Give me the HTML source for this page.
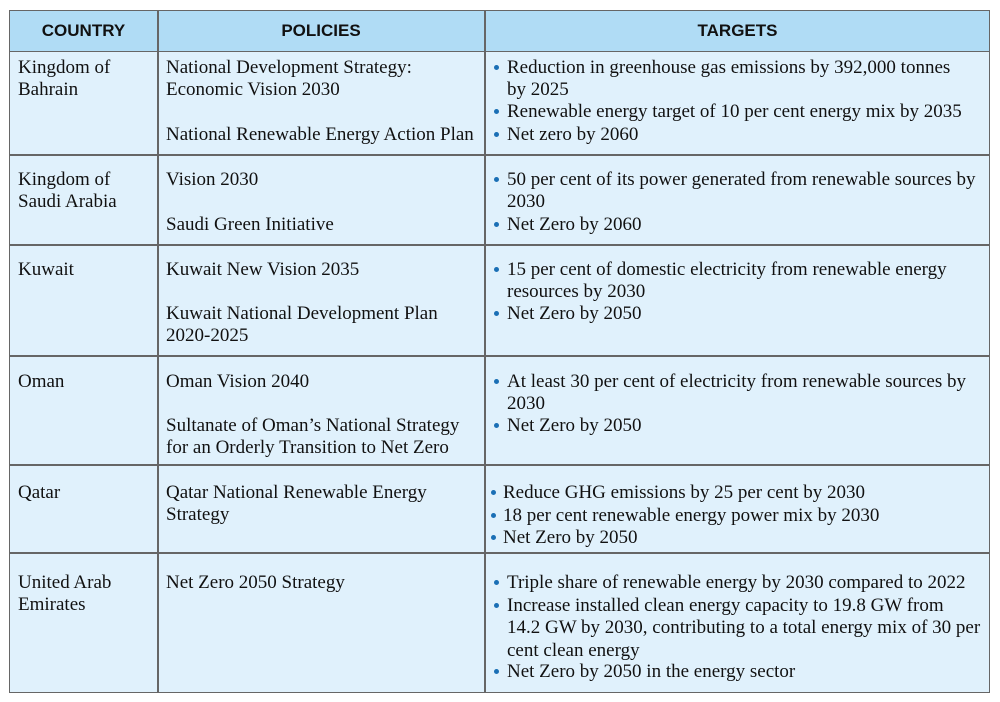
<!DOCTYPE html>
<html><head><meta charset="utf-8"><style>
body{margin:0;width:1000px;height:702px;background:#fff;position:relative;font-family:"Liberation Serif",serif;font-size:19px;color:#111;overflow:hidden}
.b{position:absolute;box-sizing:border-box}
.t{position:absolute;white-space:nowrap;line-height:22.3px;margin-top:2px}
.h{position:absolute;font-family:"Liberation Sans",sans-serif;font-weight:bold;font-size:17px;top:20px;text-align:center;line-height:22px}
.d{position:absolute;width:5px;height:5px;border-radius:50%;background:#1a6fb5;margin-top:1px}
</style></head><body>
<div class="b" style="left:9px;top:10px;width:981px;height:683px;background:#e0f1fc;border:1.5px solid #666"></div>
<div class="b" style="left:9px;top:10px;width:981px;height:42px;background:#b0dcf5;border:1.5px solid #666"></div>
<div class="b" style="left:157px;top:10px;width:1.5px;height:683px;background:#666"></div>
<div class="b" style="left:484px;top:10px;width:1.5px;height:683px;background:#666"></div>
<div class="b" style="left:9px;top:154px;width:981px;height:1.5px;background:#666"></div>
<div class="b" style="left:9px;top:244px;width:981px;height:1.5px;background:#666"></div>
<div class="b" style="left:9px;top:355px;width:981px;height:1.5px;background:#666"></div>
<div class="b" style="left:9px;top:464px;width:981px;height:1.5px;background:#666"></div>
<div class="b" style="left:9px;top:552px;width:981px;height:1.5px;background:#666"></div>
<div class="h" style="left:9px;width:149px">COUNTRY</div>
<div class="h" style="left:158px;width:326px">POLICIES</div>
<div class="h" style="left:485px;width:505px">TARGETS</div>

<div class="t" style="left:18px;top:55px">Kingdom of<br>Bahrain</div>
<div class="t" style="left:166px;top:55px">National Development Strategy:<br>Economic Vision 2030</div>
<div class="t" style="left:166px;top:122px">National Renewable Energy Action Plan</div>
<div class="d" style="left:494px;top:64px"></div><div class="t" style="left:507px;top:55px">Reduction in greenhouse gas emissions by 392,000 tonnes<br>by 2025</div>
<div class="d" style="left:494px;top:108px"></div><div class="t" style="left:507px;top:99px">Renewable energy target of 10 per cent energy mix by 2035</div>
<div class="d" style="left:494px;top:131px"></div><div class="t" style="left:507px;top:122px">Net zero by 2060</div>

<div class="t" style="left:18px;top:167px">Kingdom of<br>Saudi Arabia</div>
<div class="t" style="left:166px;top:167px">Vision 2030</div>
<div class="t" style="left:166px;top:212px">Saudi Green Initiative</div>
<div class="d" style="left:494px;top:176px"></div><div class="t" style="left:507px;top:167px">50 per cent of its power generated from renewable sources by<br>2030</div>
<div class="d" style="left:494px;top:221px"></div><div class="t" style="left:507px;top:212px">Net Zero by 2060</div>

<div class="t" style="left:18px;top:257px">Kuwait</div>
<div class="t" style="left:166px;top:257px">Kuwait New Vision 2035</div>
<div class="t" style="left:166px;top:301px">Kuwait National Development Plan<br>2020-2025</div>
<div class="d" style="left:494px;top:266px"></div><div class="t" style="left:507px;top:257px">15 per cent of domestic electricity from renewable energy<br>resources by 2030</div>
<div class="d" style="left:494px;top:310px"></div><div class="t" style="left:507px;top:301px">Net Zero by 2050</div>

<div class="t" style="left:18px;top:369px">Oman</div>
<div class="t" style="left:166px;top:369px">Oman Vision 2040</div>
<div class="t" style="left:166px;top:413px">Sultanate of Oman’s National Strategy<br>for an Orderly Transition to Net Zero</div>
<div class="d" style="left:494px;top:378px"></div><div class="t" style="left:507px;top:369px">At least 30 per cent of electricity from renewable sources by<br>2030</div>
<div class="d" style="left:494px;top:422px"></div><div class="t" style="left:507px;top:413px">Net Zero by 2050</div>

<div class="t" style="left:18px;top:480px">Qatar</div>
<div class="t" style="left:166px;top:480px">Qatar National Renewable Energy<br>Strategy</div>
<div class="d" style="left:491px;top:489px"></div><div class="t" style="left:503px;top:480px">Reduce GHG emissions by 25 per cent by 2030</div>
<div class="d" style="left:491px;top:512px"></div><div class="t" style="left:503px;top:503px">18 per cent renewable energy power mix by 2030</div>
<div class="d" style="left:491px;top:534px"></div><div class="t" style="left:503px;top:525px">Net Zero by 2050</div>

<div class="t" style="left:18px;top:570px">United Arab<br>Emirates</div>
<div class="t" style="left:166px;top:570px">Net Zero 2050 Strategy</div>
<div class="d" style="left:494px;top:579px"></div><div class="t" style="left:507px;top:570px">Triple share of renewable energy by 2030 compared to 2022</div>
<div class="d" style="left:494px;top:602px"></div><div class="t" style="left:507px;top:593px">Increase installed clean energy capacity to 19.8 GW from<br>14.2 GW by 2030, contributing to a total energy mix of 30 per<br>cent clean energy</div>
<div class="d" style="left:494px;top:668px"></div><div class="t" style="left:507px;top:659px">Net Zero by 2050 in the energy sector</div>
</body></html>
